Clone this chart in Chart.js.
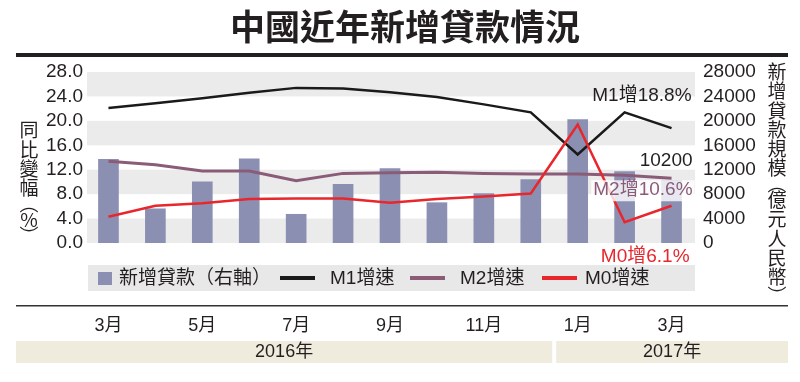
<!DOCTYPE html>
<html><head><meta charset="utf-8">
<script src="https://cdn.jsdelivr.net/npm/chart.js@4/dist/chart.umd.min.js"></script>
<style>html,body{margin:0;padding:0;background:#fff;overflow:hidden}</style>
</head><body>
<canvas id="c" width="800" height="382" style="width:800px;height:382px;display:block"></canvas>
<script>
const titleText = '中國近年新增貸款情況';
const months = ['3月','4月','5月','6月','7月','8月','9月','10月','11月','12月','1月','2月','3月'];
const years = ['2016年', '2017年'];
const loans = [13700, 5600, 10000, 13800, 4700, 9600, 12200, 6600, 8100, 10400, 20200, 11700, 10200];
const m1 = [22.1, 22.9, 23.7, 24.6, 25.4, 25.3, 24.7, 23.9, 22.7, 21.4, 14.5, 21.4, 18.8];
const m2 = [13.4, 12.8, 11.8, 11.8, 10.2, 11.4, 11.5, 11.6, 11.4, 11.3, 11.3, 11.1, 10.6];
const m0 = [4.3, 6.1, 6.5, 7.2, 7.3, 7.3, 6.6, 7.2, 7.6, 8.1, 19.4, 3.4, 6.1];
const leftTicks = [0, 4, 8, 12, 16, 20, 24, 28];
const rightTicks = [0, 4000, 8000, 12000, 16000, 20000, 24000, 28000];
const seriesNames = ['新增貸款（右軸）', 'M1增速', 'M2增速', 'M0增速'];
const leftTitle = ['同','比','變','幅','︵','%','︶'];
const rightTitle = ['新','增','貸','款','規','模','︵','億','元','人','民','幣','︶'];
const notes = ['M1增18.8%', '10200', 'M2增10.6%', 'M0增6.1%'];

const FONT = "'Liberation Sans', 'Noto Sans CJK TC', sans-serif";
const CJK = "'Noto Sans CJK TC', 'Liberation Sans', sans-serif";
const INK = '#231f20';
const BAR = '#8b90b3';

Chart.defaults.font.family = FONT;
Chart.defaults.color = INK;

const deco = {
  id: 'deco',
  beforeDraw(chart) {
    const {ctx, chartArea: a, scales} = chart;
    const yL = scales.yL;
    ctx.save();
    ctx.fillStyle = '#fff';
    ctx.fillRect(0, 0, chart.width, chart.height);
    ctx.fillStyle = '#ebebeb';
    for (let i = 0; i < leftTicks.length - 1; i += 2) {
      const y1 = yL.getPixelForValue(leftTicks[i]);
      const y2 = yL.getPixelForValue(leftTicks[i + 1]);
      ctx.fillRect(a.left + 2, y2, a.right - a.left - 2, y1 - y2);
    }
    ctx.restore();
  },
  afterDraw(chart) {
    const {ctx, chartArea: a, scales} = chart;
    const x = scales.x, yL = scales.yL, yR = scales.yR;
    const ds = chart.data.datasets;
    ctx.save();
    // title
    ctx.fillStyle = INK;
    ctx.font = "bold 35px " + CJK;
    ctx.textAlign = 'center';
    ctx.textBaseline = 'middle';
    ctx.fillText(titleText, 405, 27);
    ctx.fillRect(16, 53, 772, 4);

    // vertical axis titles
    ctx.font = "19px " + CJK;
    let yy = 130;
    leftTitle.forEach((ch, i) => {
      ctx.fillText(ch, 29, yy);
      const small = (ch === '︵' || ch === '%' || ch === '︶' || leftTitle[i + 1] === '︵');
      yy += small ? 16 : 19.4;
    });
    yy = 72;
    rightTitle.forEach((ch, i) => {
      ctx.fillText(ch, 777, yy);
      const small = (ch === '︵' || rightTitle[i + 1] === '︵');
      yy += small ? 16 : 19.2;
    });

    // legend box
    ctx.fillStyle = '#e8e8e8';
    ctx.fillRect(88, 265, 607, 26);
    ctx.font = "19px " + FONT;
    ctx.textAlign = 'left';
    ctx.fillStyle = ds[0].backgroundColor;
    ctx.fillRect(98, 272, 14, 13);
    ctx.fillStyle = INK;
    ctx.fillText(ds[0].label, 119, 279);
    const legendLines = [[1, 280, 330], [2, 410, 460], [3, 542, 585]];
    legendLines.forEach(([k, lx, tx]) => {
      ctx.fillStyle = ds[k].borderColor;
      ctx.fillRect(lx, 276, 35, 4);
      ctx.fillStyle = INK;
      ctx.fillText(ds[k].label, tx, 279);
    });

    // separator line
    ctx.fillStyle = '#333';
    ctx.fillRect(16, 305, 772, 1.5);

    // year bands
    const split = x.getPixelForValue(9.5);
    ctx.fillStyle = '#efebdd';
    ctx.fillRect(16, 341, split - 2 - 16, 22);
    ctx.fillRect(split + 2, 341, 788 - split - 2, 22);
    ctx.fillStyle = INK;
    ctx.textAlign = 'center';
    ctx.font = "18px " + FONT;
    ctx.fillText(years[0], (16 + split - 2) / 2, 352);
    ctx.fillText(years[1], (split + 2 + 788) / 2, 352);

    // annotations
    const last = months.length - 1;
    const lx = x.getPixelForValue(last);
    ctx.font = "19px " + FONT;
    ctx.textAlign = 'right';
    ctx.fillStyle = INK;
    ctx.fillText(notes[0], lx + 20, yL.getPixelForValue(m1[last]) - 32);
    ctx.fillText(notes[1], lx + 21, yR.getPixelForValue(loans[last]) - 20);
    const m2y = yL.getPixelForValue(m2[last]) + 12;
    const w2 = ctx.measureText(notes[2]).width;
    ctx.fillStyle = 'rgba(255,255,255,0.8)';
    ctx.fillRect(lx + 21 - w2 - 2, m2y - 10, w2 + 4, 21);
    ctx.fillStyle = '#8a5c78';
    ctx.fillText(notes[2], lx + 21, m2y);
    ctx.fillStyle = '#e8262c';
    ctx.fillText(notes[3], lx + 18, yL.getPixelForValue(m0[last]) + 51);
    ctx.restore();
  }
};

new Chart(document.getElementById('c'), {
  type: 'bar',
  data: {
    labels: months,
    datasets: [
      { type: 'bar', label: seriesNames[0], data: loans, yAxisID: 'yR', backgroundColor: BAR, barThickness: 20, order: 4 },
      { type: 'line', label: seriesNames[1], data: m1, yAxisID: 'yL', borderColor: '#1a1a1a', borderWidth: 2.5, pointRadius: 0, tension: 0, order: 2 },
      { type: 'line', label: seriesNames[2], data: m2, yAxisID: 'yL', borderColor: '#8a5c78', borderWidth: 3, pointRadius: 0, tension: 0, order: 3 },
      { type: 'line', label: seriesNames[3], data: m0, yAxisID: 'yL', borderColor: '#e8262c', borderWidth: 2.5, pointRadius: 0, tension: 0, order: 1 }
    ]
  },
  options: {
    responsive: false,
    animation: false,
    devicePixelRatio: 1,
    layout: { padding: { left: 0, right: 0, top: 72, bottom: 46 } },
    plugins: { legend: { display: false }, tooltip: { enabled: false }, title: { display: false } },
    scales: {
      x: {
        type: 'category',
        offset: true,
        grid: { display: false, drawTicks: false },
        border: { display: false },
        ticks: {
          autoSkip: false, maxRotation: 0, padding: 72,
          font: { size: 18 }, color: INK,
          callback: function (v, i) { return i % 2 === 0 ? this.getLabelForValue(v) : ''; }
        },
        afterFit: s => { s.height = 93; }
      },
      yL: {
        type: 'linear', position: 'left', min: 0, max: 28,
        afterBuildTicks: s => { s.ticks = leftTicks.map(v => ({ value: v })); },
        grid: { display: false, drawTicks: false },
        border: { display: false },
        ticks: { autoSkip: false, padding: 2, font: { size: 19 }, color: INK, callback: v => Number(v).toFixed(1) },
        afterFit: s => { s.width = 85; }
      },
      yR: {
        type: 'linear', position: 'right', min: 0, max: 28000,
        afterBuildTicks: s => { s.ticks = rightTicks.map(v => ({ value: v })); },
        grid: { display: false, drawTicks: false },
        border: { display: false },
        ticks: { autoSkip: false, padding: 8, font: { size: 19 }, color: INK, callback: v => String(v) },
        afterFit: s => { s.width = 105; }
      }
    }
  },
  plugins: [deco]
});
</script>
</body></html>
